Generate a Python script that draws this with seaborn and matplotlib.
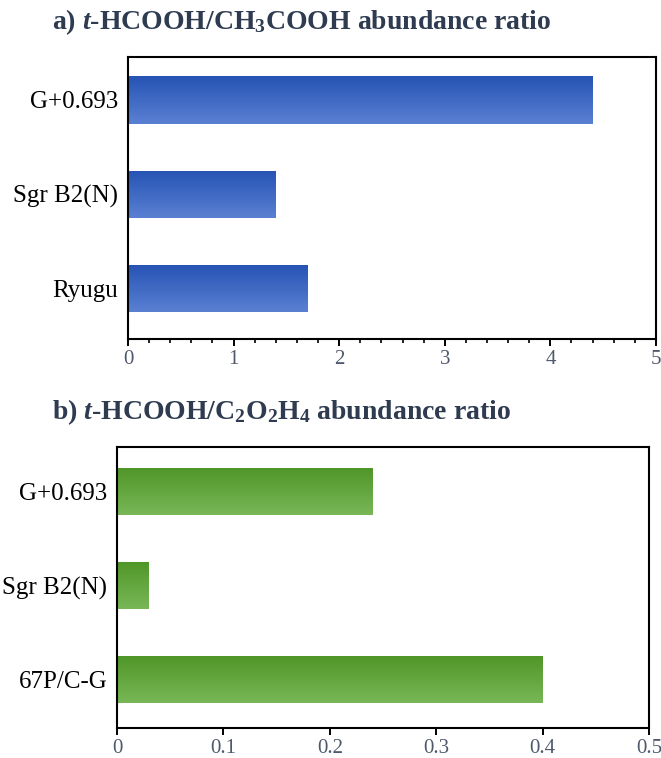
import numpy as np
import pandas as pd
import matplotlib
matplotlib.use("Agg")
import matplotlib.pyplot as plt
import seaborn as sns
from matplotlib.ticker import MultipleLocator, FuncFormatter

# Abundance ratios
sources_a = ["G+0.693", "Sgr B2(N)", "Ryugu"]
ratio_a = [4.4, 1.4, 1.7]
sources_b = ["G+0.693", "Sgr B2(N)", "67P/C-G"]
ratio_b = [0.24, 0.03, 0.4]

title_a = r"a) $\mathit{t}$-HCOOH/CH$_3$COOH abundance ratio"
title_b = r"b) $\mathit{t}$-HCOOH/C$_2$O$_2$H$_4$ abundance ratio"

sns.set_theme(style="white")
plt.rcParams["font.family"] = ["Liberation Serif", "DejaVu Serif"]
plt.rcParams["mathtext.fontset"] = "custom"
plt.rcParams["mathtext.rm"] = "Liberation Serif:bold"
plt.rcParams["mathtext.it"] = "Liberation Serif:italic:bold"
plt.rcParams["mathtext.bf"] = "Liberation Serif:bold"

fig = plt.figure(figsize=(6.61, 7.58), dpi=100)
ax1 = fig.add_axes([0.1936, 0.5528, 0.7988, 0.3720])
ax2 = fig.add_axes([0.1770, 0.0396, 0.8048, 0.3707])

TICK_COLOR = "#4f596b"
TITLE_COLOR = "#2e3b50"


def gradient_bars(ax, top_rgb, bottom_rgb):
    top = np.array(matplotlib.colors.to_rgb(top_rgb))
    bot = np.array(matplotlib.colors.to_rgb(bottom_rgb))
    t = np.linspace(0, 1, 64)[:, None]
    grad = (top[None, :] * (1 - t) + bot[None, :] * t)[:, None, :]
    for p in list(ax.patches):
        x0, y0 = p.get_x(), p.get_y()
        w, h = p.get_width(), p.get_height()
        y_lo, y_hi = min(y0, y0 + h), max(y0, y0 + h)
        im = ax.imshow(grad, extent=(x0, x0 + w, y_hi, y_lo), origin="upper",
                       aspect="auto", zorder=2, interpolation="bilinear")
        im.set_clip_path(p)
        p.set_facecolor("none")
        p.set_edgecolor("none")


def style(ax, xmax, major, minor, ylo, yhi):
    ax.set_xlim(0, xmax)
    ax.set_ylim(yhi, ylo)
    ax.xaxis.set_major_locator(MultipleLocator(major))
    ax.xaxis.set_major_formatter(FuncFormatter(lambda v, _: f"{v:g}"))
    if minor:
        ax.xaxis.set_minor_locator(MultipleLocator(minor))
        ax.tick_params(axis="x", which="minor", bottom=True, length=3,
                       width=1.2, color="black", direction="out")
    ax.tick_params(axis="x", which="major", bottom=True, length=5, width=1.4,
                   color="black", direction="out", labelsize=15,
                   labelcolor=TICK_COLOR, pad=3)
    ax.tick_params(axis="y", left=False, length=0, labelsize=18,
                   labelcolor="black", pad=7)
    ax.set_xlabel("")
    ax.set_ylabel("")
    for s in ax.spines.values():
        s.set_visible(True)
        s.set_color("black")
        s.set_linewidth(1.5)


df_a = pd.DataFrame({"source": sources_a, "ratio": ratio_a})
sns.barplot(data=df_a, x="ratio", y="source", orient="h", width=0.5,
            color="#3763c8", ax=ax1)
gradient_bars(ax1, "#2653b4", "#5a80d2")
style(ax1, 5, 1, 0.2, -0.457, 2.54)

df_b = pd.DataFrame({"source": sources_b, "ratio": ratio_b})
sns.barplot(data=df_b, x="ratio", y="source", orient="h", width=0.5,
            color="#62a83a", ax=ax2)
gradient_bars(ax2, "#4f9628", "#78b756")
style(ax2, 0.5, 0.1, None, -0.47, 2.51)

fig.text(0.0787, 0.971, title_a, fontsize=20, fontweight="bold",
         color=TITLE_COLOR, va="center", ha="left")
fig.text(0.0787, 0.4565, title_b, fontsize=20, fontweight="bold",
         color=TITLE_COLOR, va="center", ha="left")

fig.savefig("out.png", dpi=100)
